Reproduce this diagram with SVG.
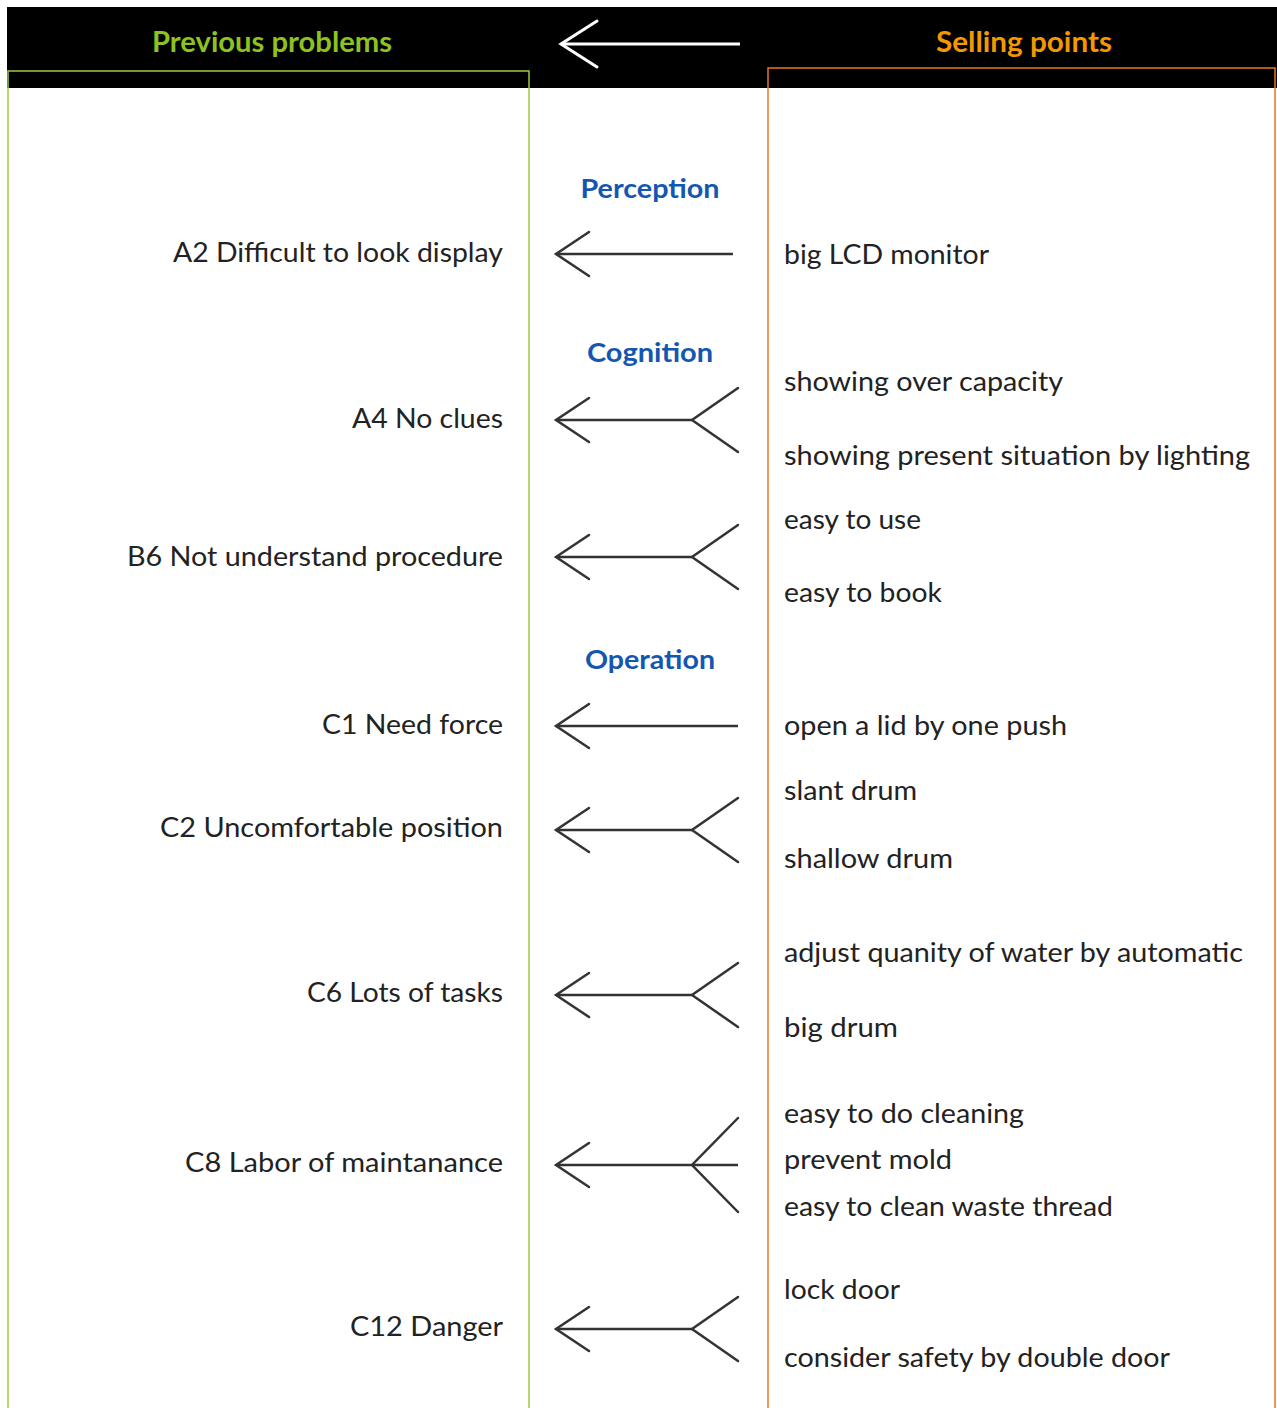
<svg xmlns="http://www.w3.org/2000/svg" width="1277" height="1408" viewBox="0 0 1277 1408">
<defs>
<style>
.lbl{font-family:Lato,"Liberation Sans",sans-serif;font-size:27px;fill:#222;white-space:pre;}
.cat{font-family:Lato,"Liberation Sans",sans-serif;font-size:27px;font-weight:bold;fill:#1457b0;text-anchor:middle;}
.hd{font-family:Lato,"Liberation Sans",sans-serif;font-size:28px;font-weight:bold;text-anchor:middle;}
.ln{stroke:#333;stroke-width:2.5;fill:none;marker-end:url(#chev);}
.fk{stroke:#333;stroke-width:2.5;fill:none;stroke-linecap:round;}
</style>
<marker id="chev" viewBox="-36 -25 40 50" refX="0" refY="0" markerWidth="40" markerHeight="50" markerUnits="userSpaceOnUse" orient="auto">
<path d="M -33 -22 L 0 0 L -33 22" fill="none" stroke="#333" stroke-width="2.5" stroke-linecap="round"/>
</marker>
<marker id="chevw" viewBox="-40 -27 44 54" refX="0" refY="0" markerWidth="44" markerHeight="54" markerUnits="userSpaceOnUse" orient="auto">
<path d="M -36 -23 L 0 0 L -36 23" fill="none" stroke="#fff" stroke-width="3" stroke-linecap="round"/>
</marker>
</defs>
<rect width="1277" height="1408" fill="#fff"/>
<g id="header">
<rect x="7" y="7" width="1270" height="81" fill="#000"/>
<line x1="740" y1="44" x2="561" y2="44" stroke="#fff" stroke-width="3" marker-end="url(#chevw)"/>
<text class="hd" x="272" y="52" fill="#8dc21f" textLength="240" lengthAdjust="spacingAndGlyphs">Previous problems</text>
<text class="hd" x="1024" y="52" fill="#f39800" textLength="176" lengthAdjust="spacingAndGlyphs">Selling points</text>
</g>
<g id="left-panel"><rect x="8" y="71" width="521" height="1360" fill="none" stroke="#9ccb3b" stroke-width="1.5"/></g>
<g id="right-panel"><rect x="768" y="68" width="507" height="1360" fill="none" stroke="#e8782a" stroke-width="1.5"/></g>
<g id="categories">
<text class="cat" x="650" y="198" textLength="139" lengthAdjust="spacingAndGlyphs">Perception</text>
<text class="cat" x="650" y="362" textLength="126" lengthAdjust="spacingAndGlyphs">Cognition</text>
<text class="cat" x="650" y="669" textLength="130" lengthAdjust="spacingAndGlyphs">Operation</text>
</g>
<g id="problems" class="lbl" text-anchor="end" xml:space="preserve">
<text id="A2" x="503" y="262" textLength="330" lengthAdjust="spacingAndGlyphs">A2  Difficult to look display</text>
<text id="A4" x="503" y="428" textLength="151" lengthAdjust="spacingAndGlyphs">A4  No clues</text>
<text id="B6" x="503" y="566" textLength="376" lengthAdjust="spacingAndGlyphs">B6  Not understand procedure</text>
<text id="C1" x="503" y="734" textLength="181" lengthAdjust="spacingAndGlyphs">C1  Need force</text>
<text id="C2" x="503" y="837" textLength="343" lengthAdjust="spacingAndGlyphs">C2  Uncomfortable position</text>
<text id="C6" x="503" y="1002" textLength="196" lengthAdjust="spacingAndGlyphs">C6  Lots of tasks</text>
<text id="C8" x="503" y="1172" textLength="318" lengthAdjust="spacingAndGlyphs">C8  Labor of maintanance</text>
<text id="C12" x="503" y="1336" textLength="153" lengthAdjust="spacingAndGlyphs">C12  Danger</text>
</g>
<g id="selling-points" class="lbl">
<text x="784" y="264" textLength="205" lengthAdjust="spacingAndGlyphs">big LCD monitor</text>
<text x="784" y="391" textLength="279" lengthAdjust="spacingAndGlyphs">showing over capacity</text>
<text x="784" y="465" textLength="466" lengthAdjust="spacingAndGlyphs">showing present situation by lighting</text>
<text x="784" y="529" textLength="137" lengthAdjust="spacingAndGlyphs">easy to use</text>
<text x="784" y="602" textLength="158" lengthAdjust="spacingAndGlyphs">easy to book</text>
<text x="784" y="735" textLength="283" lengthAdjust="spacingAndGlyphs">open a lid by one push</text>
<text x="784" y="800" textLength="133" lengthAdjust="spacingAndGlyphs">slant drum</text>
<text x="784" y="868" textLength="169" lengthAdjust="spacingAndGlyphs">shallow drum</text>
<text x="784" y="962" textLength="459" lengthAdjust="spacingAndGlyphs">adjust quanity of water by automatic</text>
<text x="784" y="1037" textLength="114" lengthAdjust="spacingAndGlyphs">big drum</text>
<text x="784" y="1123" textLength="240" lengthAdjust="spacingAndGlyphs">easy to do cleaning</text>
<text x="784" y="1169" textLength="168" lengthAdjust="spacingAndGlyphs">prevent mold</text>
<text x="784" y="1216" textLength="329" lengthAdjust="spacingAndGlyphs">easy to clean waste thread</text>
<text x="784" y="1299" textLength="116" lengthAdjust="spacingAndGlyphs">lock door</text>
<text x="784" y="1367" textLength="386" lengthAdjust="spacingAndGlyphs">consider safety by double door</text>
</g>
<g id="connectors">
<line class="ln" x1="733" y1="254" x2="556" y2="254"/>
<line class="ln" x1="692" y1="420" x2="556" y2="420"/>
<path class="fk" d="M738 388 L692 420 L738 452"/>
<line class="ln" x1="692" y1="557" x2="556" y2="557"/>
<path class="fk" d="M738 525 L692 557 L738 589"/>
<line class="ln" x1="738" y1="726" x2="556" y2="726"/>
<line class="ln" x1="692" y1="830" x2="556" y2="830"/>
<path class="fk" d="M738 798 L692 830 L738 862"/>
<line class="ln" x1="692" y1="995" x2="556" y2="995"/>
<path class="fk" d="M738 963 L692 995 L738 1027"/>
<line class="ln" x1="738" y1="1165" x2="556" y2="1165"/>
<path class="fk" d="M738 1118 L692 1165 L738 1212"/>
<line class="ln" x1="692" y1="1329" x2="556" y2="1329"/>
<path class="fk" d="M738 1297 L692 1329 L738 1361"/>
</g>
</svg>
